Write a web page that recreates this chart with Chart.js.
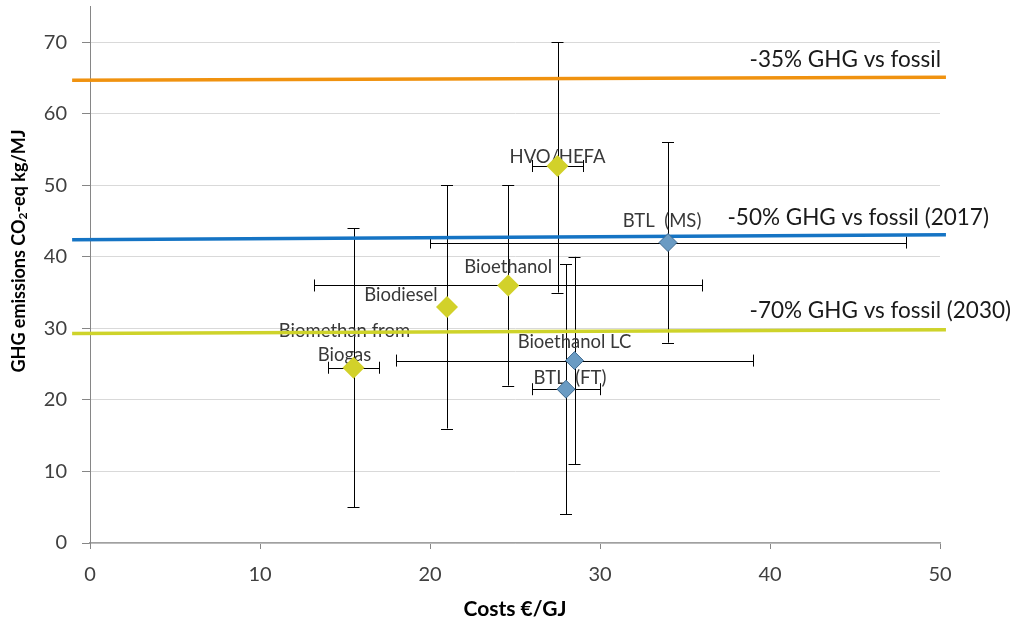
<!DOCTYPE html>
<html>
<head>
<meta charset="utf-8">
<script src="https://cdn.jsdelivr.net/npm/chart.js@4.4.1/dist/chart.umd.min.js"></script>
<style>
  html, body { margin: 0; padding: 0; background: #fff; }
  #wrap { width: 1018px; height: 625px; position: relative; }
</style>
</head>
<body>
<div id="wrap"><canvas id="ghgChart"></canvas></div>
<script>
// fuels: cost (x), GHG (y) and the error ranges
const fuelNames  = ['HVO/HEFA', 'Bioethanol', 'Biodiesel', 'Biomethan from\nBiogas', 'BTL  (MS)', 'Bioethanol LC', 'BTL  (FT)'];
const fuelCost   = [27.5, 24.6, 21.0, 15.5, 34.0, 28.5, 28.0];
const fuelGhg    = [52.7, 36.0, 33.0, 24.5, 42.0, 25.5, 21.5];
const costLow    = [26.0, 13.2, null, 14.0, 20.0, 18.0, 26.0];
const costHigh   = [29.0, 36.0, null, 17.0, 48.0, 39.0, 30.0];
const ghgLow     = [35.0, 22.0, 16.0, 5.0, 28.0, 11.0, 4.0];
const ghgHigh    = [70.0, 50.0, 50.0, 44.0, 56.0, 40.0, 39.0];
const fuelGroup  = ['first', 'first', 'first', 'first', 'second', 'second', 'second'];

// target lines (slightly tilted in the original)
const lineNames  = ['-35% GHG vs fossil', '-50% GHG vs fossil (2017)', '-70% GHG vs fossil (2030)'];
const lineX      = [-1.05, 50.35];
const lineY35    = [64.7, 65.1];
const lineY50    = [42.4, 43.1];
const lineY70    = [29.3, 29.8];

const yTicks = [0, 10, 20, 30, 40, 50, 60, 70];
const xTicks = [0, 10, 20, 30, 40, 50];

const FONT = 'Lato, "Open Sans", sans-serif';
const TEXT = '#404040';

// label offsets in px relative to each point (dx, dy of text centre)
const labelOffsets = [[0, -9], [0, -18], [-46, -12], [-9, -37], [-6, -22], [0, -19], [4, -11]];
// line label placement: x in data units of the text's left edge, dy px above the line
const lineLabelPos = [[38.8, -11], [37.5, -11], [38.8, -13]];

const pts = (group) => fuelCost.map((c, i) => ({ x: c, y: fuelGhg[i], idx: i }))
                               .filter(p => fuelGroup[p.idx] === group);

const errorBars = {
    id: 'errorBars',
    beforeDatasetsDraw(chart) {
        const { ctx, scales: { x, y } } = chart;
        ctx.save();
        ctx.strokeStyle = '#000';
        ctx.lineWidth = 1;
        const cap = 6;
        fuelCost.forEach((c, i) => {
            const px = x.getPixelForValue(c), py = y.getPixelForValue(fuelGhg[i]);
            ctx.beginPath();
            if (ghgLow[i] !== null) {
                const y1 = y.getPixelForValue(ghgLow[i]), y2 = y.getPixelForValue(ghgHigh[i]);
                ctx.moveTo(Math.round(px) + 0.5, y1); ctx.lineTo(Math.round(px) + 0.5, y2);
                ctx.moveTo(px - cap, Math.round(y1) + 0.5); ctx.lineTo(px + cap, Math.round(y1) + 0.5);
                ctx.moveTo(px - cap, Math.round(y2) + 0.5); ctx.lineTo(px + cap, Math.round(y2) + 0.5);
            }
            if (costLow[i] !== null) {
                const x1 = x.getPixelForValue(costLow[i]), x2 = x.getPixelForValue(costHigh[i]);
                ctx.moveTo(x1, Math.round(py) + 0.5); ctx.lineTo(x2, Math.round(py) + 0.5);
                ctx.moveTo(Math.round(x1) + 0.5, py - cap); ctx.lineTo(Math.round(x1) + 0.5, py + cap);
                ctx.moveTo(Math.round(x2) + 0.5, py - cap); ctx.lineTo(Math.round(x2) + 0.5, py + cap);
            }
            ctx.stroke();
        });

        // point labels
        ctx.fillStyle = '#383838';
        ctx.font = '18.5px ' + FONT;
        ctx.textAlign = 'center';
        ctx.textBaseline = 'middle';
        fuelNames.forEach((name, i) => {
            const px = x.getPixelForValue(fuelCost[i]) + labelOffsets[i][0];
            const py = y.getPixelForValue(fuelGhg[i]) + labelOffsets[i][1];
            name.split('\n').forEach((part, k) => ctx.fillText(part, px, py + k * 24));
        });
        ctx.restore();
    },
    afterDatasetsDraw(chart) {
        const { ctx, scales: { x, y } } = chart;
        const ys = [lineY35, lineY50, lineY70];
        ctx.save();
        ctx.fillStyle = '#1a1a1a';
        ctx.font = '22.5px ' + FONT;
        ctx.textAlign = 'left';
        ctx.textBaseline = 'alphabetic';
        lineNames.forEach((name, i) => {
            const lx = lineLabelPos[i][0];
            const t = (lx - lineX[0]) / (lineX[1] - lineX[0]);
            const ly = ys[i][0] + t * (ys[i][1] - ys[i][0]);
            ctx.fillText(name, x.getPixelForValue(lx), y.getPixelForValue(ly) + lineLabelPos[i][1]);
        });
        ctx.restore();
    },
    afterDraw(chart) {
        // y axis title with a real subscript 2
        const { ctx } = chart;
        const parts = [['GHG emissions CO', 18, 0], ['2', 12, 4], ['-eq kg/MJ', 18, 0]];
        ctx.save();
        ctx.translate(19, 251);
        ctx.rotate(-Math.PI / 2);
        ctx.fillStyle = '#000';
        ctx.textBaseline = 'middle';
        ctx.textAlign = 'left';
        let total = 0;
        parts.forEach(([t, s]) => { ctx.font = 'bold ' + s + 'px ' + FONT; total += ctx.measureText(t).width; });
        let cx = -total / 2;
        parts.forEach(([t, s, off]) => {
            ctx.font = 'bold ' + s + 'px ' + FONT;
            ctx.fillText(t, cx, off);
            cx += ctx.measureText(t).width;
        });
        ctx.restore();
    }
};

const ctx = document.getElementById('ghgChart').getContext('2d');
const chart = new Chart(ctx, {
    type: 'scatter',
    data: {
        datasets: [{
            label: 'first generation',
            data: pts('first'),
            pointStyle: 'rectRot',
            pointRadius: 11,
            backgroundColor: '#D2D12A',
            borderColor: '#D2D12A',
            borderWidth: 0,
            order: 1
        }, {
            label: 'advanced',
            data: pts('second'),
            pointStyle: 'rectRot',
            pointRadius: 9,
            backgroundColor: '#6A9BC3',
            borderColor: '#3E6A90',
            borderWidth: 1,
            order: 1
        }, {
            label: lineNames[0],
            data: lineX.map((v, i) => ({ x: v, y: lineY35[i] })),
            showLine: true, pointRadius: 0, borderColor: '#F0920F', borderWidth: 3.5, clip: false, order: 2
        }, {
            label: lineNames[1],
            data: lineX.map((v, i) => ({ x: v, y: lineY50[i] })),
            showLine: true, pointRadius: 0, borderColor: '#1574C4', borderWidth: 3.5, clip: false, order: 2
        }, {
            label: lineNames[2],
            data: lineX.map((v, i) => ({ x: v, y: lineY70[i] })),
            showLine: true, pointRadius: 0, borderColor: '#CED32A', borderWidth: 3.5, clip: false, order: 2
        }]
    },
    options: {
        responsive: true,
        maintainAspectRatio: false,
        animation: false,
        layout: { autoPadding: false, padding: { top: 6.5, right: 78, left: 0, bottom: 0 } },
        plugins: {
            legend: { display: false },
            tooltip: { enabled: false }
        },
        scales: {
            x: {
                type: 'linear',
                min: 0, max: 50,
                afterBuildTicks: (s) => { s.ticks = xTicks.map(v => ({ value: v })); },
                afterFit: (s) => { s.height = 82; s.paddingLeft = 0; s.paddingRight = 0; },
                ticks: { color: TEXT, font: { family: FONT, size: 20 }, padding: 14, maxRotation: 0 },
                grid: { drawOnChartArea: false, tickLength: 6, tickColor: '#868686' },
                border: { color: '#A0A0A0', width: 1.5 },
                title: {
                    display: true, text: 'Costs €/GJ', color: '#000',
                    font: { family: FONT, size: 21, weight: 'bold' }, padding: { top: 0, bottom: 3 }
                }
            },
            y: {
                type: 'linear',
                min: 0, max: 75,
                afterBuildTicks: (s) => { s.ticks = yTicks.map(v => ({ value: v })); },
                afterFit: (s) => { s.width = 90; s.paddingTop = 0; s.paddingBottom = 0; },
                ticks: { color: TEXT, font: { family: FONT, size: 20 }, padding: 15 },
                grid: { color: '#D9D9D9', tickLength: 8, tickColor: '#868686' },
                border: { color: '#868686' },
                title: { display: false }
            }
        }
    },
    plugins: [errorBars]
});
</script>
</body>
</html>
